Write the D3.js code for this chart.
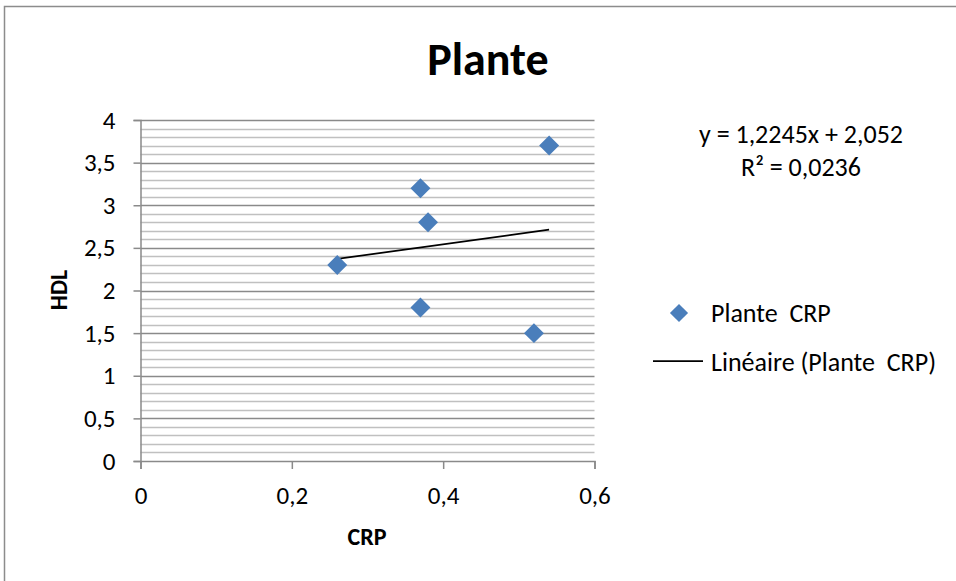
<!DOCTYPE html>
<html>
<head>
<meta charset="utf-8">
<script src="https://cdn.jsdelivr.net/npm/d3@7"></script>
<style>
  body { margin: 0; background: #fff; }
  text { font-family: Carlito, Lato, "Open Sans", sans-serif; fill: #000; }
</style>
</head>
<body>
<div id="chart"></div>
<script>
// data
var crpValues = [0.54, 0.37, 0.38, 0.26, 0.37, 0.52];
var hdlValues = [3.7, 3.2, 2.8, 2.3, 1.8, 1.5];
var xTicks = [0, 0.2, 0.4, 0.6];
var yTicks = [0, 0.5, 1, 1.5, 2, 2.5, 3, 3.5, 4];
var yMinorTicks = d3.range(0, 41).map(function(i) { return i / 10; });
var trendSlope = 1.2245;
var trendIntercept = 2.052;
var equationLines = ["y = 1,2245x + 2,052", "R² = 0,0236"];
var legendLabels = ["Plante  CRP", "Linéaire (Plante  CRP)"];

var svgWidth = 956, svgHeight = 581;
var plot = {left: 140.5, top: 120, right: 594.5, bottom: 461};

var locale = d3.formatLocale({decimal: ",", thousands: " ", grouping: [3], currency: ["", ""]});
var fmt = function(d) { return locale.format("")(+d.toFixed(2)); };

var svg = d3.select("#chart").append("svg")
  .attr("width", svgWidth)
  .attr("height", svgHeight);

// outer chart border (right & bottom fall outside the picture)
svg.append("rect")
  .attr("x", 4.5).attr("y", 6.5)
  .attr("width", 1000).attr("height", 1000)
  .attr("fill", "none")
  .attr("stroke", "#8c8c8c")
  .attr("stroke-width", 1.5);

var xScale = d3.scaleLinear().domain([0, 0.6]).range([plot.left, plot.right]);
var yScale = d3.scaleLinear().domain([0, 4]).range([plot.bottom, plot.top]);

// minor gridlines
svg.append("g").selectAll("line")
  .data(yMinorTicks.filter(function(d) { return Math.round(d * 10) % 5 !== 0; }))
  .enter().append("line")
  .attr("x1", plot.left).attr("x2", plot.right)
  .attr("y1", d => Math.round(yScale(d)) + 0.5)
  .attr("y2", d => Math.round(yScale(d)) + 0.5)
  .attr("stroke", "#c0c0c0")
  .attr("stroke-width", 1.5);

// major gridlines
svg.append("g").selectAll("line")
  .data(yTicks.slice(1))
  .enter().append("line")
  .attr("x1", plot.left).attr("x2", plot.right)
  .attr("y1", d => Math.round(yScale(d)) + 0.5)
  .attr("y2", d => Math.round(yScale(d)) + 0.5)
  .attr("stroke", "#8a8a8a")
  .attr("stroke-width", 1.5);

// axes
var bottomAxis = d3.axisBottom(xScale).tickValues(xTicks).tickFormat(fmt).tickSizeOuter(0).tickSize(8).tickPadding(17);
var leftAxis = d3.axisLeft(yScale).tickValues(yTicks).tickFormat(fmt).tickSizeOuter(0).tickSize(7).tickPadding(18);

var gx = svg.append("g")
  .attr("transform", `translate(0, ${plot.bottom})`)
  .call(bottomAxis);
var gy = svg.append("g")
  .attr("transform", `translate(${plot.left}, 0)`)
  .call(leftAxis);

[gx, gy].forEach(function(g) {
  g.select(".domain").attr("stroke", "#8a8a8a").attr("stroke-width", 1.5);
  g.selectAll(".tick line").attr("stroke", "#8a8a8a").attr("stroke-width", 1.5);
  g.selectAll(".tick text").attr("font-size", 25).attr("fill", "#000")
    .style("font-family", "Carlito, Lato, 'Open Sans', sans-serif");
});

// trendline
var xExtent = d3.extent(crpValues);
svg.append("line")
  .attr("x1", xScale(xExtent[0]))
  .attr("y1", yScale(trendSlope * xExtent[0] + trendIntercept))
  .attr("x2", xScale(xExtent[1]))
  .attr("y2", yScale(trendSlope * xExtent[1] + trendIntercept))
  .attr("stroke", "#000")
  .attr("stroke-width", 1.75);

// points
var diamond = d3.symbol().type(d3.symbolSquare).size(200);
svg.append("g").selectAll("path")
  .data(crpValues)
  .enter().append("path")
  .attr("d", diamond)
  .attr("transform", (d, i) => `translate(${xScale(d)}, ${yScale(hdlValues[i])}) rotate(45)`)
  .attr("fill", "#4a7ebb");

// title
svg.append("text")
  .attr("x", 488).attr("y", 75)
  .attr("text-anchor", "middle")
  .attr("font-size", 46)
  .attr("font-weight", "bold")
  .text("Plante");

// axis titles
svg.append("text")
  .attr("x", 367).attr("y", 545)
  .attr("text-anchor", "middle")
  .attr("font-size", 24)
  .attr("font-weight", "bold")
  .text("CRP");

svg.append("text")
  .attr("transform", "translate(67, 290) rotate(-90)")
  .attr("text-anchor", "middle")
  .attr("font-size", 24)
  .attr("font-weight", "bold")
  .text("HDL");

// equation
svg.append("g").selectAll("text")
  .data(equationLines)
  .enter().append("text")
  .attr("x", 801)
  .attr("y", (d, i) => 143 + i * 33)
  .attr("text-anchor", "middle")
  .attr("font-size", 26)
  .text(d => d);

// legend
svg.append("path")
  .attr("d", d3.symbol().type(d3.symbolSquare).size(165))
  .attr("transform", "translate(679, 313) rotate(45)")
  .attr("fill", "#4a7ebb");
svg.append("line")
  .attr("x1", 653).attr("x2", 703)
  .attr("y1", 361).attr("y2", 361)
  .attr("stroke", "#000").attr("stroke-width", 1.75);
svg.append("g").selectAll("text")
  .data(legendLabels)
  .enter().append("text")
  .attr("x", 711)
  .attr("y", (d, i) => 322 + i * 49)
  .attr("font-size", 26)
  .style("white-space", "pre")
  .text(d => d);
</script>
</body>
</html>
